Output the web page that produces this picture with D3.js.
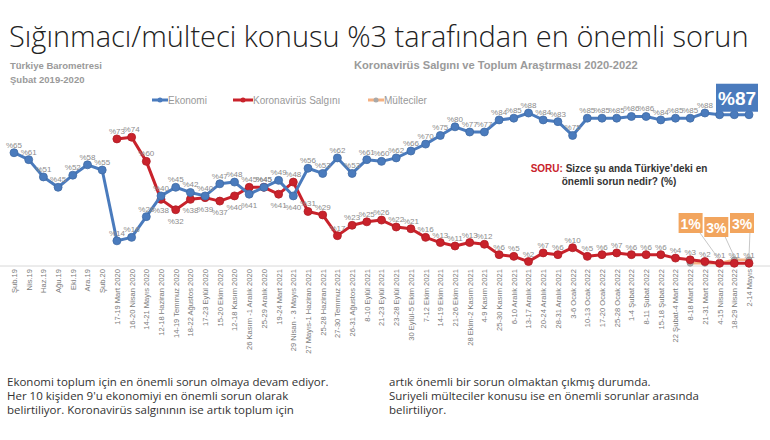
<!DOCTYPE html>
<html><head><meta charset="utf-8">
<script src="https://cdn.jsdelivr.net/npm/d3@7"></script>
<style>body{margin:0;background:#fff} svg{display:block}</style>
</head><body><svg id="c" width="770" height="440"></svg>
<script>
const categories = ["Şub.19","Nis.19","Haz.19","Ağu.19","Eki.19","Ara.19","Şub.20",
 "17-19 Mart 2020","16-20 Nisan 2020","14-21 Mayıs 2020","12-18 Haziran 2020","14-19 Temmuz 2020",
 "18-22 Ağustos 2020","17-23 Eylül 2020","15-20 Ekim 2020","12-18 Kasım 2020","26 Kasım -1 Aralık 2020",
 "25-29 Aralık 2020","19-24 Mart 2021","29 Nisan - 3 Mayıs 2021","27 Mayıs-1 Haziran 2021","25-28 Haziran 2021",
 "27-30 Temmuz 2021","26-31 Ağustos 2021","8-10 Eylül 2021","21-23 Eylül 2021","23-28 Eylül 2021",
 "30 Eylül-5 Ekim 2021","7-12 Ekim 2021","14-19 Ekim 2021","21-26 Ekim 2021","28 Ekim-2 Kasım 2021",
 "4-9 Kasım 2021","25-30 Kasım 2021","6-10 Aralık 2021","13-17 Aralık 2021","20-24 Aralık 2021",
 "28-31 Aralık 2021","3-6 Ocak 2022","10-13 Ocak 2022","17-20 Ocak 2022","25-28 Ocak 2022",
 "1-4 Şubat 2022","8-11 Şubat 2022","15-18 Şubat 2022","22 Şubat-4 Mart 2022","8-18 Mart 2022",
 "21-31 Mart 2022","4-15 Nisan 2022","18-29 Nisan 2022","2-14 Mayıs"];
const ekonomi = [65,61,51,45,52,58,55,14,16,28,40,45,42,40,47,48,41,45,49,40,56,53,62,53,61,60,62,66,70,75,
 80,77,77,84,85,88,84,83,75,85,85,85,86,86,84,85,85,88,87,87,87];
const korona = [null,null,null,null,null,null,null,73,74,60,38,32,38,39,37,40,45,45,41,48,31,29,17,23,25,26,22,
 21,16,13,11,13,12,6,5,2,7,6,10,5,6,7,6,6,6,4,3,2,1,1,1];
const multeciler = [null,null,null,null,null,null,null,null,null,null,null,null,null,null,null,null,null,null,
 null,null,null,null,null,null,null,null,null,null,null,null,null,null,null,null,null,null,null,null,null,null,
 null,null,null,null,null,null,1,1,1,3,3];
const seriesNames = ["Ekonomi","Koronavirüs Salgını","Mülteciler"];
const refugeeBoxLabels = ["1%","3%","3%"];
const titleText = "Sığınmacı/mülteci konusu %3 tarafından en önemli sorun";
const bodyLeft = ["Ekonomi toplum için en önemli sorun olmaya devam ediyor.",
 "Her 10 kişiden 9'u ekonomiyi en önemli sorun olarak",
 "belirtiliyor. Koronavirüs salgınının ise artık toplum için"];
const bodyRight = ["artık önemli bir sorun olmaktan çıkmış durumda.",
 "Suriyeli mülteciler konusu ise en önemli sorunlar arasında",
 "belirtiliyor."];

const BLUE = "#4a7bbd", RED = "#c9222b", ORANGE = "#f4b183", GRAYDOT = "#a9a9a9";
const svg = d3.select("#c");
const F = "'Liberation Sans', Arial, sans-serif";

function fit(sel, w){ const l = sel.node().getComputedTextLength(); const fs = parseFloat(sel.attr("font-size")); sel.attr("font-size", fs*w/l); }

// Title
const t = svg.append("text").attr("x",9).attr("y",47).attr("font-family","'Open Sans', sans-serif")
 .attr("font-weight",300).attr("font-size",29).attr("fill","#222").text(titleText);
fit(t, 740);

svg.append("text").attr("x",10).attr("y",69).attr("font-family",F).attr("font-weight","bold")
 .attr("font-size",9.5).attr("fill","#9a9a9a").text("Türkiye Barometresi");
svg.append("text").attr("x",10).attr("y",83).attr("font-family",F).attr("font-weight","bold")
 .attr("font-size",9.5).attr("fill","#9a9a9a").text("Şubat 2019-2020");
const sub2 = svg.append("text").attr("x",354).attr("y",69).attr("font-family",F).attr("font-weight","bold")
 .attr("font-size",9.5).attr("fill","#9a9a9a").text("Koronavirüs Salgını ve Toplum Araştırması 2020-2022");
fit(sub2, 284);

// Scales
const x = d3.scalePoint().domain(categories).range([14, 749]);
const y = d3.scaleLinear().domain([0, 88]).range([265, 113]);

// Axis
const ax = svg.append("g").attr("transform","translate(0,266)")
 .call(d3.axisBottom(x).tickSize(0).tickPadding(3));
ax.select(".domain").attr("stroke","#d8d8d8").attr("d","M0,0H770");
ax.selectAll("text").attr("transform","rotate(-90)").attr("text-anchor","end")
 .attr("x",-3).attr("y",0).attr("dy","0.32em").attr("font-family",F).attr("font-size",7.6).attr("fill","#7a7a7a");

// Legend
const legend = [{n:seriesNames[0], c:BLUE, dot:BLUE, lx:152, tx:168},
 {n:seriesNames[1], c:RED, dot:RED, lx:233, tx:253},
 {n:seriesNames[2], c:ORANGE, dot:GRAYDOT, lx:368, tx:384}];
legend.forEach(l=>{
  svg.append("line").attr("x1",l.lx).attr("x2",l.tx).attr("y1",100).attr("y2",100).attr("stroke",l.c).attr("stroke-width",3);
  svg.append("circle").attr("cx",(l.lx+l.tx)/2).attr("cy",100).attr("r",2.5).attr("fill",l.dot);
  svg.append("text").attr("x",l.tx).attr("y",103.5).attr("font-family",F).attr("font-size",10).attr("fill","#999").text(l.n);
});

// Last-value box geometry (Ekonomi)
const li = ekonomi.length-1;
const bx = x(categories[li]) - 33, by = y(ekonomi[li]) - 31, bw = 42, bh = 28;

// Lines
const line = d3.line().defined(d=>d.v!=null).x(d=>x(d.c)).y(d=>y(d.v));
function data(arr){ return arr.map((v,i)=>({c:categories[i], v, i})); }
const sets = [
 {d:data(multeciler), c:ORANGE, dot:GRAYDOT, r:3, w:2.5, other:null, labels:false},
 {d:data(korona), c:RED, dot:RED, r:4, w:3, other:ekonomi, labels:true},
 {d:data(ekonomi), c:BLUE, dot:BLUE, r:4, w:3, other:korona, labels:true}
];
sets.forEach(s=>{
  svg.append("path").datum(s.d).attr("d",line).attr("fill","none").attr("stroke",s.c).attr("stroke-width",s.w).attr("stroke-linejoin","round");
  svg.append("g").selectAll("circle").data(s.d.filter(d=>d.v!=null)).join("circle")
    .attr("cx",d=>x(d.c)).attr("cy",d=>y(d.v)).attr("r",s.r).attr("fill",s.dot)
    .attr("stroke",d3.color(s.dot).darker(0.4)).attr("stroke-width",0.8);
});
sets.filter(s=>s.labels).forEach(s=>{
  const pts = s.d.filter(d=>d.v!=null).map(d=>{
    const o = s.other[d.i];
    const below = o!=null && d.v < o && o - d.v < 15;
    return {...d, ly: below ? y(d.v)+14 : y(d.v)-5};
  }).filter(d=>!(x(d.c) > bx-2 && d.ly > by-4 && d.ly < by+bh+8));
  svg.append("g").selectAll("text").data(pts).join("text")
    .attr("x",d=>x(d.c)).attr("y",d=>d.ly)
    .attr("text-anchor","middle").attr("font-family",F).attr("font-size",8).attr("fill","#8c8c8c")
    .text(d=>"%"+d.v);
});

svg.append("rect").attr("x",bx).attr("y",by).attr("width",bw).attr("height",bh).attr("fill",BLUE);
svg.append("text").attr("x",bx+bw/2).attr("y",by+21).attr("text-anchor","middle").attr("font-family",F)
 .attr("font-weight","bold").attr("font-size",19).attr("fill","#fff").text("%"+ekonomi[li]);

// Refugee boxes
const offs = [-29,-18,-7];
refugeeBoxLabels.forEach((lab,k)=>{
  const i = multeciler.length-3+k;
  const px = x(categories[i]), py = y(multeciler[i]);
  const cx = px + offs[k], top = k===1 ? 217 : 213;
  svg.append("line").attr("x1",cx+8).attr("y1",top+18).attr("x2",px).attr("y2",py-3).attr("stroke","#b9b9b9").attr("stroke-width",0.8);
  svg.append("rect").attr("x",cx-12).attr("y",top).attr("width",24).attr("height",20).attr("fill","#f2a55e");
  svg.append("text").attr("x",cx).attr("y",top+15.5).attr("text-anchor","middle").attr("font-family",F)
   .attr("font-weight","bold").attr("font-size",14).attr("fill","#fff").text(lab);
});

// SORU
const q1 = svg.append("text").attr("x",619).attr("y",172).attr("text-anchor","middle").attr("font-family",F)
 .attr("font-weight","bold").attr("font-size",10).attr("fill","#333");
q1.append("tspan").attr("fill",RED).text("SORU: ");
q1.append("tspan").text("Sizce şu anda Türkiye’deki en");
svg.append("text").attr("x",619).attr("y",185).attr("text-anchor","middle").attr("font-family",F)
 .attr("font-weight","bold").attr("font-size",10).attr("fill","#333").text("önemli sorun nedir? (%)");

// Body text
bodyLeft.forEach((s,k)=>{
  svg.append("text").attr("x",7).attr("y",386+k*14).attr("font-family","'Open Sans', sans-serif")
   .attr("font-size",11.5).attr("fill","#333").text(s);
});
bodyRight.forEach((s,k)=>{
  svg.append("text").attr("x",389).attr("y",386+k*14).attr("font-family","'Open Sans', sans-serif")
   .attr("font-size",11.5).attr("fill","#333").text(s);
});
</script></body></html>
